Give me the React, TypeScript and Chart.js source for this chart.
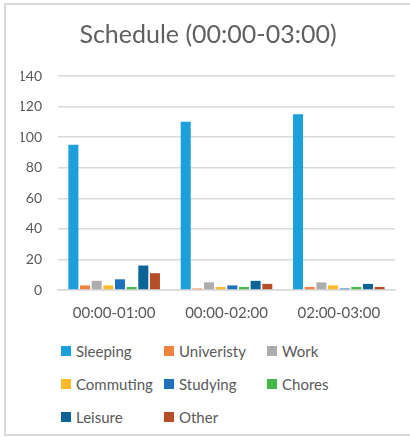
import React, { useEffect, useRef } from "react";
import { Chart, registerables } from "chart.js";

Chart.register(...registerables);

// Time slots along the x axis
const categories = ["00:00-01:00", "00:00-02:00", "02:00-03:00"];

// Activity series (counts per slot)
const sleeping = [95, 110, 115];
const university = [3, 1, 2];
const work = [6, 5, 5];
const commuting = [3, 2, 3];
const studying = [7, 3, 1];
const chores = [2, 2, 2];
const leisure = [16, 6, 4];
const other = [11, 4, 2];

const seriesNames = ["Sleeping", "Univeristy", "Work", "Commuting", "Studying", "Chores", "Leisure", "Other"];
const seriesValues = [sleeping, university, work, commuting, studying, chores, leisure, other];
const seriesColors = ["#1BA0DC", "#F2813D", "#ADADAF", "#FDB927", "#1E72BC", "#47B74C", "#0C6496", "#B54E26"];

const yTicks = [0, 20, 40, 60, 80, 100, 120, 140];

const FONT = "Lato, 'Open Sans', sans-serif";
const TEXT = "#595959";

export default function App() {
  const canvasRef = useRef<HTMLCanvasElement | null>(null);

  useEffect(() => {
    document.body.style.margin = "0";
    document.body.style.overflow = "hidden";
    const ctx = canvasRef.current;
    if (!ctx) return;
    const chart = new Chart(ctx, {
      type: "bar",
      data: {
        labels: categories,
        datasets: seriesNames.map((name, i) => ({
          label: name,
          data: seriesValues[i],
          backgroundColor: seriesColors[i],
          borderWidth: 0,
          categoryPercentage: 0.83,
          barPercentage: 0.86,
        })),
      },
      options: {
        animation: false,
        responsive: false,
        maintainAspectRatio: false,
        layout: { padding: { left: 15, right: 15, top: 0, bottom: 0 } },
        plugins: {
          legend: { display: false },
          tooltip: { enabled: false },
          title: {
            display: true,
            text: "Schedule (00:00-03:00)",
            color: "#606060",
            font: { family: FONT, size: 25, weight: "normal" },
            padding: { top: 15, bottom: 26 },
          },
        },
        scales: {
          x: {
            grid: { display: false, drawTicks: false },
            border: { display: true, color: "#d9d9d9", width: 1.5 },
            ticks: { color: TEXT, font: { family: FONT, size: 15 }, padding: 14 },
          },
          y: {
            min: 0,
            max: 140,
            afterBuildTicks: (axis: any) => {
              axis.ticks = yTicks.map((v) => ({ value: v }));
            },
            afterFit: (axis: any) => {
              axis.width = 37;
            },
            grid: { color: "#d9d9d9", lineWidth: 1.5, drawTicks: false },
            border: { display: false },
            ticks: { color: TEXT, font: { family: FONT, size: 14 }, padding: 16 },
          },
        },
      },
    });
    return () => chart.destroy();
  }, []);

  const legendCol = (i: number) => ({
    position: "absolute" as const,
    left: 61 + (i % 3) * 103,
    top: 351 + Math.floor(i / 3) * 33 - 10,
    height: 20,
    display: "flex",
    alignItems: "center",
    fontFamily: FONT,
    fontSize: 15,
    color: TEXT,
    whiteSpace: "nowrap" as const,
  });

  return (
    <div style={{ position: "relative", width: 410, height: 437, overflow: "hidden", background: "#fff" }}>
      <div
        style={{
          position: "absolute",
          left: 4,
          top: 3,
          width: 420,
          height: 433,
          boxSizing: "border-box",
          borderLeft: "2px solid #d9d9d9",
          borderTop: "2px solid #d9d9d9",
          borderBottom: "2px solid #d9d9d9",
        }}
      />
      <canvas
        ref={canvasRef}
        width={404}
        height={331}
        style={{ position: "absolute", left: 6, top: 5, width: 404, height: 331 }}
      />
      {seriesNames.map((name, i) => (
        <div key={name} style={legendCol(i)}>
          <span style={{ display: "inline-block", width: 10, height: 10, background: seriesColors[i], marginRight: 5 }} />
          <span>{name}</span>
        </div>
      ))}
    </div>
  );
}
